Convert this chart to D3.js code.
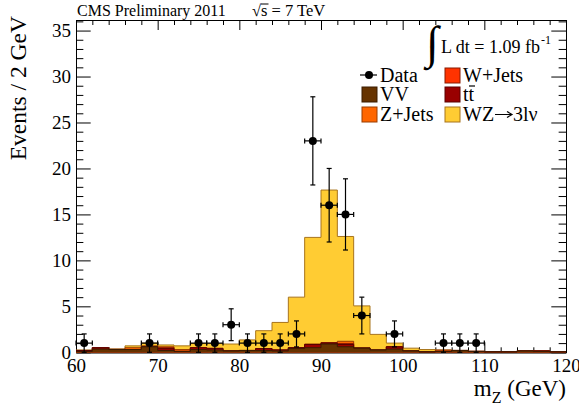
<!DOCTYPE html>
<html>
<head>
<meta charset="utf-8">
<script src="https://cdn.jsdelivr.net/npm/d3@7/dist/d3.min.js"></script>
<style>
  body { margin: 0; background: #fff; }
  svg { display: block; font-family: "Liberation Serif", "Times New Roman", serif; }
</style>
</head>
<body>
<svg id="chart" width="579" height="412"></svg>
<script>
// Bin lower edges (GeV), 2 GeV wide bins
const binLow = [60, 62, 64, 66, 68, 70, 72, 74, 76, 78, 80, 82, 84, 86, 88,
                90, 92, 94, 96, 98, 100, 102, 104, 106, 108, 110, 112, 114, 116, 118];
const binWidth = 2;

// Observed events per bin
const dataCounts = [1, 0, 0, 0, 1, 0, 0, 1, 1, 3, 1, 1, 1, 2, 23,
                    16, 15, 4, 0, 2, 0, 0, 1, 1, 1, 0, 0, 0, 0, 0];

// Expected contributions per bin (stack order bottom -> top)
const vv     = [0.1, 0.35, 0.3, 0.3, 0.6, 0.2, 0.1, 0.3, 0.25, 0.15, 0.2, 0.2, 0.15, 0.4, 0.5,
                0.9, 0.6, 0.45, 0.25, 0.35, 0.15, 0.05, 0.1, 0.2, 0.1, 0.05, 0.05, 0.15, 0.1, 0.05];
const ttbar  = [0.1, 0.15, 0, 0, 0, 0.2, 0, 0.2, 0.15, 0, 0, 0.2, 0.1, 0.1, 0.35,
                0.1, 0.25, 0, 0, 0.25, 0, 0, 0, 0, 0, 0, 0, 0, 0.05, 0];
const wjets  = [0, 0, 0, 0, 0, 0.1, 0, 0, 0, 0, 0, 0, 0, 0, 0,
                0.05, 0.1, 0, 0, 0, 0, 0, 0, 0, 0, 0, 0, 0, 0, 0];
const zjets  = [0, 0, 0.05, 0.2, 0.1, 0.1, 0.2, 0, 0.05, 0, 0, 0, 0, 0, 0.05,
                0, 0.25, 0.05, 0, 0, 0, 0, 0.15, 0, 0, 0, 0, 0, 0, 0];
const wz     = [0.05, 0, 0, 0.2, 0.3, 0.2, 0.4, 0.45, 0.5, 0.75, 1.15, 1.95, 3.0, 5.5, 11.6,
                16.6, 11.4, 4.55, 1.7, 0.4, 0.3, 0.25, 0, 0, 0, 0, 0, 0, 0, 0];

const xMajor = [60, 70, 80, 90, 100, 110, 120];
const yMajor = [0, 5, 10, 15, 20, 25, 30, 35];

const series = [
  { key: "VV",      values: vv,    fill: "#663300", line: "#3a1c00" },
  { key: "ttbar",   values: ttbar, fill: "#990000", line: "#5a0000" },
  { key: "W+Jets",  values: wjets, fill: "#ff3300", line: "#8a1a00" },
  { key: "Z+Jets",  values: zjets, fill: "#ff6600", line: "#9a3d00" },
  { key: "WZ",      values: wz,    fill: "#ffcc33", line: "#a8741c" }
];

const svg = d3.select("#chart");
const plotL = 76, plotR = 566, plotT = 20, plotB = 352.3;

const x = d3.scaleLinear().domain([60, 120]).range([plotL, plotR]);
const y = d3.scaleLinear().domain([0, 36.15]).range([plotB, plotT]);

// minor tick values
const xMinor = d3.range(60, 120.01, 2).filter(v => v % 10 !== 0);
const yMinor = d3.range(0, 36.01, 1).filter(v => v % 5 !== 0);

function drawAxis(axisFn, pos, scale, majors, minors, majLen, labels) {
  const g = svg.append("g").attr("transform", pos);
  g.call(axisFn(scale).tickValues(minors).tickFormat("").tickSize(-majLen / 2).tickSizeOuter(0));
  const g2 = svg.append("g").attr("transform", pos);
  g2.call(axisFn(scale).tickValues(majors).tickSize(-majLen).tickSizeOuter(0)
    .tickPadding(labels ? (axisFn === d3.axisBottom ? 6 : 5) : 0)
    .tickFormat(labels ? d3.format("d") : ""));
  [g, g2].forEach(s => {
    s.selectAll("line").attr("stroke", "#000");
    s.selectAll("path").attr("stroke", "#000");
    s.selectAll("text").attr("fill", "#000").style("font-size", "19px")
      .style("font-family", "'Liberation Serif', serif");
  });
}

drawAxis(d3.axisBottom, `translate(0,${plotB})`, x, xMajor, xMinor, 10, true);
drawAxis(d3.axisTop, `translate(0,${plotT})`, x, xMajor, xMinor, 10, false);
drawAxis(d3.axisLeft, `translate(${plotL},0)`, y, yMajor, yMinor, 14.7, true);
drawAxis(d3.axisRight, `translate(${plotR},0)`, y, yMajor, yMinor, 14.7, false);

// Stacked histogram
const stacked = binLow.map((lo, i) => {
  const row = { lo };
  series.forEach(s => row[s.key] = s.values[i]);
  return row;
});
const stack = d3.stack().keys(series.map(s => s.key))(stacked);

const hist = svg.append("g");
// draw from top layer to bottom so each lower layer paints over
for (let k = stack.length - 1; k >= 0; k--) {
  const layer = stack[k];
  const pts = layer.map((d, i) => ({ x: binLow[i], y1: d[1] }));
  pts.push({ x: binLow[binLow.length - 1] + binWidth, y1: layer[layer.length - 1][1] });
  const area = d3.area().curve(d3.curveStepAfter)
    .x(d => x(d.x)).y0(y(0)).y1(d => y(d.y1));
  const line = d3.line().curve(d3.curveStepAfter)
    .x(d => x(d.x)).y(d => y(d.y1));
  hist.append("path").attr("d", area(pts)).attr("fill", series[k].fill);
  hist.append("path").attr("d", line(pts)).attr("fill", "none")
    .attr("stroke", series[k].line).attr("stroke-width", 1);
}

// Data points with sqrt(N) errors
const dataG = svg.append("g");
binLow.forEach((lo, i) => {
  const n = dataCounts[i];
  if (n <= 0) return;
  const cx = x(lo + binWidth / 2), cy = y(n);
  const err = Math.sqrt(n);
  const x0 = x(lo), x1 = x(lo + binWidth);
  const yt = y(n + err), yb = y(Math.max(0, n - err));
  dataG.append("line").attr("x1", x0).attr("x2", x1).attr("y1", cy).attr("y2", cy);
  dataG.append("line").attr("x1", cx).attr("x2", cx).attr("y1", yt).attr("y2", yb);
  dataG.append("line").attr("x1", cx - 2.5).attr("x2", cx + 2.5).attr("y1", yt).attr("y2", yt);
  dataG.append("line").attr("x1", cx - 2.5).attr("x2", cx + 2.5).attr("y1", yb).attr("y2", yb);
  dataG.append("line").attr("x1", x0).attr("x2", x0).attr("y1", cy - 2.5).attr("y2", cy + 2.5);
  dataG.append("line").attr("x1", x1).attr("x2", x1).attr("y1", cy - 2.5).attr("y2", cy + 2.5);
  dataG.append("circle").attr("cx", cx).attr("cy", cy).attr("r", 4).attr("fill", "#000");
});
dataG.selectAll("line").attr("stroke", "#000").attr("stroke-width", 1.2);

// Header
svg.append("text").attr("x", 77).attr("y", 16).style("font-size", "16px").text("CMS Preliminary 2011");
svg.append("text").attr("x", 252).attr("y", 16).style("font-size", "16.5px").text("\u221As = 7 TeV");
svg.append("line").attr("x1", 261).attr("x2", 268.5).attr("y1", 4).attr("y2", 4).attr("stroke", "#000");

// Luminosity
svg.append("text").attr("x", 426).attr("y", 58).style("font-size", "46px").text("\u222B");
svg.append("text").attr("x", 441).attr("y", 53).style("font-size", "18px").text("L dt = 1.09 fb");
svg.append("text").attr("x", 541).attr("y", 44).style("font-size", "12px").text("-1");

// Legend
const legend = svg.append("g").style("font-size", "20px");
legend.append("line").attr("x1", 360).attr("x2", 377).attr("y1", 75).attr("y2", 75).attr("stroke", "#000").attr("stroke-width", 1.2);
legend.append("circle").attr("cx", 369).attr("cy", 75).attr("r", 4).attr("fill", "#000");
legend.append("text").attr("x", 380).attr("y", 82).text("Data");

const legendItems = [
  { s: series[2], label: "W+Jets", bx: 445, by: 68 },
  { s: series[0], label: "VV",     bx: 362, by: 87 },
  { s: series[1], label: "tt",     bx: 445, by: 87 },
  { s: series[3], label: "Z+Jets", bx: 362, by: 107 },
  { s: series[4], label: "WZ",     bx: 445, by: 107 }
];
legendItems.forEach(it => {
  legend.append("rect").attr("x", it.bx).attr("y", it.by).attr("width", 15).attr("height", 15)
    .attr("fill", it.s.fill).attr("stroke", it.s.line).attr("stroke-width", 1);
  legend.append("text").attr("x", it.bx + 18).attr("y", it.by + 14).text(it.label);
});
// bar over second t of ttbar
legend.append("line").attr("x1", 469).attr("x2", 475).attr("y1", 86).attr("y2", 86).attr("stroke", "#000").attr("stroke-width", 1.2);
// arrow and "3lν" after WZ
const ay = 107 + 14 - 6.5;
legend.append("path").attr("d", `M495,${ay}H511M507,${ay - 3}L512,${ay}L507,${ay + 3}`)
  .attr("fill", "none").attr("stroke", "#000").attr("stroke-width", 1.2);
legend.append("text").attr("x", 513).attr("y", 121).text("3l\u03BD");

// Axis titles
const xt = svg.append("text").attr("x", 566).attr("y", 396).attr("text-anchor", "end").style("font-size", "23px");
xt.append("tspan").text("m");
xt.append("tspan").attr("dy", 7).style("font-size", "16px").text("Z");
xt.append("tspan").attr("dy", -7).text(" (GeV)");

svg.append("text").attr("transform", "translate(26,16) rotate(-90)").attr("text-anchor", "end")
  .style("font-size", "23.5px").text("Events / 2 GeV");
</script>
</body>
</html>
